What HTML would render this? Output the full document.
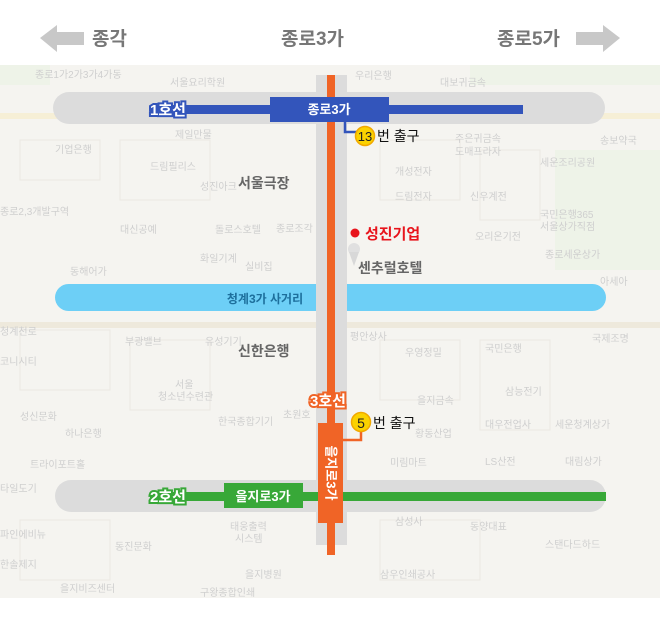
<!DOCTYPE html>
<html><head><meta charset="utf-8"><style>
html,body{margin:0;padding:0;background:#fff}
svg{display:block}
text{font-family:"Liberation Sans","Noto Sans CJK KR",sans-serif}
</style></head><body>
<svg width="660" height="624" viewBox="0 0 660 624" xmlns="http://www.w3.org/2000/svg">
<rect x="0" y="0" width="660" height="624" fill="#fff"/>
<polygon points="40,38 57,25 57,32 84,32 84,45 57,45 57,52" fill="#c8c8c8"/>
<polygon points="620,38 603,25 603,32 576,32 576,45 603,45 603,52" fill="#c8c8c8"/>
<g font-size="19" font-weight="bold" fill="#777">
<text x="92" y="45">종각</text>
<text x="281" y="45">종로3가</text>
<text x="497" y="45">종로5가</text>
</g>
<rect x="0" y="65" width="660" height="533" fill="#f5f4f0"/>
<rect x="0" y="65" width="50" height="20" fill="#eef3e8"/>
<rect x="470" y="65" width="190" height="20" fill="#eef3e8"/>
<rect x="555" y="150" width="105" height="120" fill="#eef3e8"/>
<rect x="0" y="113" width="660" height="6" fill="#f6efd6"/>
<rect x="0" y="322" width="660" height="6" fill="#eee9dc"/>
<g fill="none" stroke="#ebe8e2" stroke-width="1">
<rect x="20" y="140" width="80" height="40"/><rect x="120" y="140" width="90" height="60"/>
<rect x="380" y="140" width="80" height="60"/><rect x="480" y="150" width="60" height="70"/>
<rect x="20" y="330" width="90" height="60"/><rect x="130" y="340" width="80" height="70"/>
<rect x="380" y="340" width="80" height="60"/><rect x="480" y="340" width="70" height="90"/>
<rect x="20" y="520" width="90" height="60"/><rect x="380" y="520" width="100" height="60"/>
</g>
<g font-size="10" fill="#cfcfcf">
<text x="35" y="78">종로1가2가3가4가동</text><text x="170" y="86">서울요리학원</text>
<text x="355" y="79">우리은행</text><text x="440" y="86">대보귀금속</text>
<text x="175" y="138">제일만물</text><text x="55" y="153">기업은행</text>
<text x="455" y="142">주은귀금속</text><text x="455" y="155">도매프라자</text>
<text x="600" y="144">송보약국</text><text x="150" y="170">드림필리스</text>
<text x="540" y="166">세운조리공원</text><text x="395" y="175">개성전자</text>
<text x="200" y="190">성진아크</text><text x="395" y="200">드림전자</text><text x="470" y="200">신우계전</text>
<text x="0" y="215">종로2,3개발구역</text><text x="215" y="233">돌로스호텔</text><text x="276" y="232">종로조각</text>
<text x="120" y="233">대신공예</text><text x="540" y="218">국민은행365</text><text x="540" y="230">서울상가직점</text>
<text x="475" y="240">오리온기전</text><text x="200" y="262">화일기계</text><text x="245" y="270">실비집</text>
<text x="70" y="275">동해어가</text><text x="545" y="258">종로세운상가</text><text x="600" y="285">아세아</text>
<text x="0" y="335">청계천로</text><text x="125" y="345">부광밸브</text><text x="205" y="345">유성기기</text>
<text x="350" y="340">평안상사</text><text x="405" y="356">우영정밀</text><text x="485" y="352">국민은행</text>
<text x="592" y="342">국제조명</text><text x="0" y="365">코니시티</text>
<text x="175" y="388">서울</text><text x="158" y="400">청소년수련관</text>
<text x="505" y="395">삼능전기</text><text x="417" y="404">을지금속</text>
<text x="20" y="420">성신문화</text><text x="218" y="425">한국종합기기</text><text x="283" y="418">초원호</text>
<text x="485" y="428">대우전업사</text><text x="555" y="428">세운청계상가</text>
<text x="65" y="437">하나은행</text><text x="415" y="437">황동산업</text>
<text x="30" y="468">트라이포트홀</text><text x="390" y="466">미림마트</text><text x="485" y="465">LS산전</text><text x="565" y="465">대림상가</text>
<text x="0" y="492">타일도기</text><text x="395" y="525">삼성사</text><text x="470" y="530">동양대표</text>
<text x="230" y="530">태웅출력</text><text x="235" y="542">시스템</text><text x="545" y="548">스탠다드하드</text>
<text x="0" y="538">파인에비뉴</text><text x="115" y="550">동진문화</text>
<text x="0" y="568">한솔제지</text><text x="245" y="578">을지병원</text><text x="380" y="578">삼우인쇄공사</text>
<text x="60" y="592">을지비즈센터</text><text x="200" y="596">구왕종합인쇄</text>
</g>
<rect x="53" y="92" width="552" height="32" rx="16" fill="#dcdcdc"/>
<rect x="55" y="284" width="551" height="27" rx="13.5" fill="#6dcff6"/>
<rect x="55" y="480" width="551" height="32" rx="16" fill="#dcdcdc"/>
<rect x="316" y="75" width="31" height="470" fill="#dcdcdc"/>
<g font-size="14" font-weight="bold" fill="#666">
<text x="238" y="188">서울극장</text>
<text x="358" y="273">센추럴호텔</text>
<text x="238" y="356">신한은행</text>
</g>
<circle cx="355" cy="233" r="4.5" fill="#e8141c"/>
<text x="365" y="239" font-size="15" font-weight="bold" fill="#e8141c">성진기업</text>
<circle cx="354" cy="249" r="6" fill="#e0e0e0"/>
<polygon points="349,252 359,252 354,266" fill="#d8d8d8"/>
<text x="265" y="303" font-size="12" font-weight="bold" fill="#1d6f9c" text-anchor="middle">청계3가 사거리</text>
<!-- line 3 -->
<rect x="327" y="75" width="8" height="480" fill="#f06426"/>
<!-- line 1 -->
<rect x="150" y="105" width="373" height="9" fill="#3355bb"/>
<rect x="270" y="97" width="119" height="25" fill="#3355bb"/>
<text x="329" y="114" font-size="13" font-weight="bold" fill="#fff" text-anchor="middle">종로3가</text>
<text x="150" y="115" font-size="15" font-weight="bold" fill="#fff" stroke="#3355bb" stroke-width="4" paint-order="stroke">1호선</text>
<polyline points="345,122 345,132 357,132" fill="none" stroke="#3355bb" stroke-width="2.5"/>
<!-- line 2 -->
<rect x="150" y="492" width="456" height="9" fill="#38a838"/>
<rect x="224" y="483" width="79" height="25" fill="#38a838"/>
<text x="263" y="501" font-size="13" font-weight="bold" fill="#fff" text-anchor="middle">을지로3가</text>
<text x="150" y="502" font-size="15" font-weight="bold" fill="#fff" stroke="#38a838" stroke-width="4" paint-order="stroke">2호선</text>
<rect x="318" y="423" width="25" height="100" fill="#f06426"/>
<text transform="translate(330,473) rotate(90)" font-size="13" font-weight="bold" fill="#fff" text-anchor="middle" dominant-baseline="middle">을지로3가</text>
<text x="310" y="406" font-size="15" font-weight="bold" fill="#fff" stroke="#f06426" stroke-width="4" paint-order="stroke">3호선</text>
<polyline points="343,440 361,440 361,430" fill="none" stroke="#f06426" stroke-width="2.5"/>
<circle cx="365" cy="136" r="9.5" fill="#fbd200" stroke="#f2a900" stroke-width="1.5"/>
<text x="365" y="141" font-size="13" fill="#222" text-anchor="middle">13</text>
<text x="377" y="141" font-size="14" fill="#111">번 출구</text>
<circle cx="361" cy="422" r="9.5" fill="#fbd200" stroke="#f2a900" stroke-width="1.5"/>
<text x="361" y="428" font-size="14" fill="#222" text-anchor="middle">5</text>
<text x="373" y="428" font-size="14" fill="#111">번 출구</text>
</svg>
</body></html>
